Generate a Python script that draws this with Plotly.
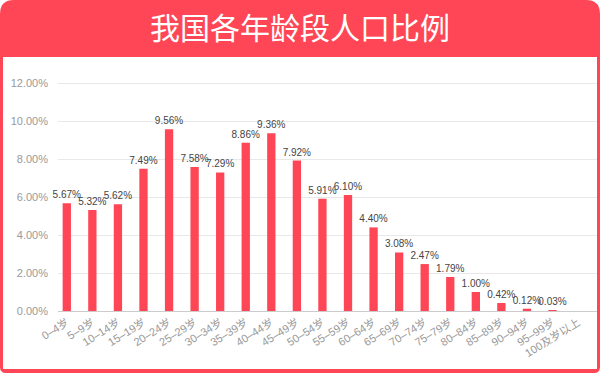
import plotly.graph_objects as go

categories = ["0–4岁", "5–9岁", "10–14岁", "15–19岁", "20–24岁", "25–29岁", "30–34岁",
              "35–39岁", "40–44岁", "45–49岁", "50–54岁", "55–59岁", "60–64岁", "65–69岁",
              "70–74岁", "75–79岁", "80–84岁", "85–89岁", "90–94岁", "95–99岁", "100及岁以上"]
values = [5.67, 5.32, 5.62, 7.49, 9.56, 7.58, 7.29, 8.86, 9.36, 7.92, 5.91, 6.10,
          4.40, 3.08, 2.47, 1.79, 1.00, 0.42, 0.12, 0.03, 0.0]
ytick_vals = [0, 2, 4, 6, 8, 10, 12]
ytick_text = ["0.00%", "2.00%", "4.00%", "6.00%", "8.00%", "10.00%", "12.00%"]
title_text = "我国各年龄段人口比例"

RED = "#ff4656"
W, H = 600, 373
L, R, T, B = 58, 3, 64, 62
PW = W - L - R
PH = H - T - B


def px(x):
    return (x - L) / PW


def py(y):
    return (H - B - y) / PH


def rounded_rect(x0, y0, x1, y1, rt, rb):
    pts = [
        ("M", [(x0 + rt, y0)]),
        ("L", [(x1 - rt, y0)]),
        ("Q", [(x1, y0), (x1, y0 + rt)]),
        ("L", [(x1, y1 - rb)]),
        ("Q", [(x1, y1), (x1 - rb, y1)]),
        ("L", [(x0 + rb, y1)]),
        ("Q", [(x0, y1), (x0, y1 - rb)]),
        ("L", [(x0, y0 + rt)]),
        ("Q", [(x0, y0), (x0 + rt, y0)]),
    ]
    s = ""
    for cmd, ps in pts:
        s += cmd + " " + " ".join(f"{px(a):.5f},{py(b):.5f}" for a, b in ps) + " "
    return s + "Z"


texts = [f"{v:.2f}%" if v > 0 else "" for v in values]

fig = go.Figure(go.Bar(
    x=categories, y=values, marker=dict(color=RED, line=dict(width=0)),
    text=texts, textposition="outside", cliponaxis=False, constraintext="none",
    textfont=dict(size=10, color="#444444"),
    hoverinfo="skip",
))

fig.update_layout(
    width=W, height=H, margin=dict(l=L, r=R, t=T, b=B, autoexpand=False),
    paper_bgcolor="white", plot_bgcolor="rgba(0,0,0,0)",
    font=dict(family="Liberation Sans, Noto Sans CJK SC, sans-serif"),
    bargap=0.675, showlegend=False,
    title=dict(text=title_text, x=0.5, xref="container", xanchor="center",
               y=1 - 28 / H, yref="container", yanchor="middle",
               font=dict(family="Noto Sans CJK SC", size=30, color="white")),
    shapes=[
        dict(type="path", xref="paper", yref="paper", layer="below",
             path=rounded_rect(0, 0, 600, 373, 14, 6), fillcolor=RED, line=dict(width=0)),
        dict(type="rect", xref="paper", yref="paper", layer="below",
             x0=px(3), x1=px(597), y0=py(57), y1=py(369), fillcolor="white", line=dict(width=0)),
    ],
)
fig.update_xaxes(type="category", range=[-0.344, 20.74], showgrid=False,
                 showline=True, linecolor="#cccccc", linewidth=1, ticks="",
                 tickangle=-32, tickfont=dict(size=11, color="#999999"))
fig.update_yaxes(range=[0, 13], tickmode="array", tickvals=ytick_vals, ticktext=ytick_text,
                 showgrid=True, gridcolor="#e8e8e8", gridwidth=1, zeroline=False,
                 showline=False, ticks="", ticklabelstandoff=9,
                 tickfont=dict(size=11, color="#999999"))

fig.write_html("out.html", config={"displayModeBar": False},
               post_script="document.body.style.margin='0';document.body.style.padding='0';")
